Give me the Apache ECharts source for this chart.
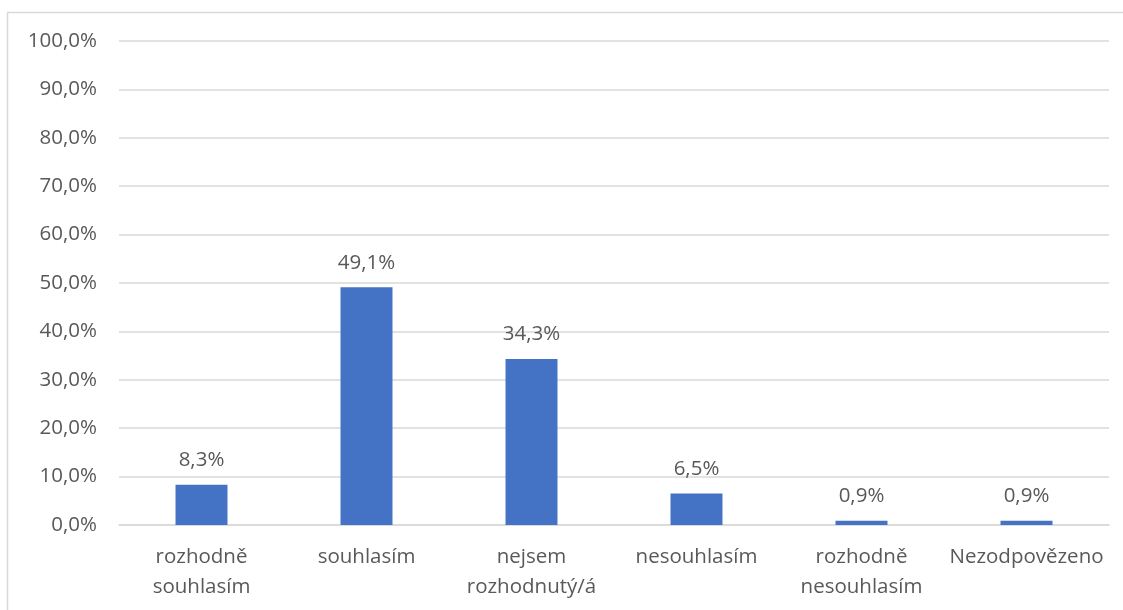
<!DOCTYPE html>
<html>
<head>
<meta charset="utf-8">
<script src="https://cdn.jsdelivr.net/npm/echarts@6/dist/echarts.min.js"></script>
<style>html,body{margin:0;padding:0;background:#fff;}#c{width:1123px;height:610px;}</style>
</head>
<body>
<div id="c"></div>
<script>
const categories = ['rozhodně\nsouhlasím', 'souhlasím', 'nejsem\nrozhodnutý/á', 'nesouhlasím', 'rozhodně\nnesouhlasím', 'Nezodpovězeno'];
const values = [8.3, 49.1, 34.3, 6.5, 0.9, 0.9];
const fmt = v => v.toFixed(1).replace('.', ',') + '%';
const FONT = '"Open Sans", sans-serif';
const chart = echarts.init(document.getElementById('c'));
chart.setOption({
  animation: false,
  backgroundColor: '#fff',
  graphic: [{
    type: 'rect', silent: true,
    shape: { x: 7.5, y: 12.5, width: 1300, height: 800 },
    style: { fill: 'none', stroke: '#d9d9d9', lineWidth: 1.5 }
  }],
  grid: { left: 119, right: 14, top: 41, bottom: 85 },
  xAxis: {
    type: 'category', data: categories,
    axisLine: { show: true, lineStyle: { color: '#d9d9d9', width: 1.5 } },
    axisTick: { show: false },
    axisLabel: { color: '#595959', fontSize: 20.5, fontFamily: FONT, lineHeight: 30, margin: 17, interval: 0 }
  },
  yAxis: {
    type: 'value', min: 0, max: 100, interval: 10,
    axisLine: { show: false }, axisTick: { show: false },
    splitLine: { lineStyle: { color: '#d9d9d9', width: 1.5 } },
    axisLabel: { color: '#595959', fontSize: 20.5, fontFamily: FONT, margin: 22, formatter: v => fmt(v) }
  },
  series: [{
    type: 'bar', data: values, barWidth: '31.5%',
    itemStyle: { color: '#4472C4' },
    label: { show: true, position: 'top', distance: 14, color: '#595959', fontSize: 20.5, fontFamily: FONT, formatter: p => fmt(p.value) }
  }]
});
</script>
</body>
</html>
